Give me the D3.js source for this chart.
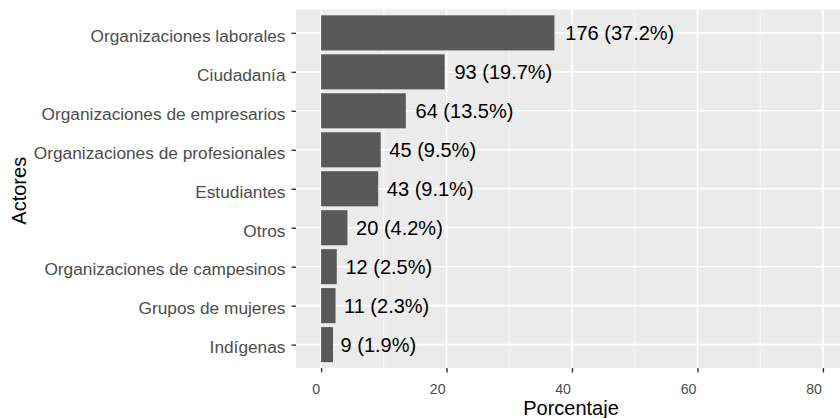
<!DOCTYPE html>
<html>
<head>
<meta charset="utf-8">
<script src="https://cdn.jsdelivr.net/npm/d3@7"></script>
<style>
  body { margin: 0; background: #fff; }
  svg { display: block; font-family: "Liberation Sans", Arial, sans-serif; }
</style>
</head>
<body>
<svg id="chart" width="840" height="418"></svg>
<script>
const categories = [
  "Organizaciones laborales",
  "Ciudadanía",
  "Organizaciones de empresarios",
  "Organizaciones de profesionales",
  "Estudiantes",
  "Otros",
  "Organizaciones de campesinos",
  "Grupos de mujeres",
  "Indígenas"
];
const counts = [176, 93, 64, 45, 43, 20, 12, 11, 9];
const percents = [37.2, 19.7, 13.5, 9.5, 9.1, 4.2, 2.5, 2.3, 1.9];
const xTicks = [0, 20, 40, 60, 80];
const xMinorTicks = [10, 30, 50, 70];
const xTitle = "Porcentaje";
const yTitle = "Actores";

const data = categories.map((c, i) => ({ cat: c, n: counts[i], pct: percents[i] }));

const svg = d3.select("#chart");
const panel = { left: 296, right: 848, top: 9.5, bottom: 368 };

const x = d3.scaleLinear().domain([-4, 84]).range([panel.left, panel.right]);
const y = d3.scalePoint().domain(categories).range([panel.top, panel.bottom]).padding(0.6);
const bandH = y.step() * 0.9;

// panel background
svg.append("rect")
  .attr("x", panel.left).attr("y", panel.top)
  .attr("width", panel.right - panel.left).attr("height", panel.bottom - panel.top)
  .attr("fill", "#ebebeb");

// minor gridlines
svg.append("g").selectAll("line").data(xMinorTicks).join("line")
  .attr("x1", d => x(d)).attr("x2", d => x(d))
  .attr("y1", panel.top).attr("y2", panel.bottom)
  .attr("stroke", "#fff").attr("stroke-width", 0.8);

// major gridlines
svg.append("g").selectAll("line").data(xTicks).join("line")
  .attr("x1", d => x(d)).attr("x2", d => x(d))
  .attr("y1", panel.top).attr("y2", panel.bottom)
  .attr("stroke", "#fff").attr("stroke-width", 1.6);
svg.append("g").selectAll("line").data(categories).join("line")
  .attr("x1", panel.left).attr("x2", panel.right)
  .attr("y1", d => y(d)).attr("y2", d => y(d))
  .attr("stroke", "#fff").attr("stroke-width", 1.6);

// bars
svg.append("g").selectAll("rect").data(data).join("rect")
  .attr("x", x(0))
  .attr("y", d => y(d.cat) - bandH / 2)
  .attr("width", d => x(d.pct) - x(0))
  .attr("height", bandH)
  .attr("fill", "#595959");

// bar labels (hjust = -0.1)
svg.append("g").selectAll("text").data(data).join("text")
  .attr("y", d => y(d.cat))
  .attr("dy", "0.36em")
  .attr("font-size", "20px")
  .attr("fill", "#000")
  .text(d => `${d.n} (${d.pct.toFixed(1)}%)`)
  .each(function(d) {
    const w = this.getComputedTextLength();
    d3.select(this).attr("x", x(d.pct) + 0.1 * w);
  });

// y axis
const yAxis = svg.append("g").attr("transform", `translate(${panel.left},0)`)
  .call(d3.axisLeft(y).tickSize(4.5).tickPadding(6));
yAxis.select(".domain").remove();
yAxis.selectAll(".tick line").attr("stroke", "#333").attr("stroke-width", 1.4);
yAxis.selectAll(".tick text")
  .attr("font-size", "17.3px").attr("fill", "#4d4d4d")
  .attr("font-family", "Liberation Sans, Arial, sans-serif")
  .attr("dy", "0.48em");

// x axis
const xAxis = svg.append("g").attr("transform", `translate(0,${panel.bottom})`)
  .call(d3.axisBottom(x).tickValues(xTicks).tickSize(4.5).tickPadding(6));
xAxis.select(".domain").remove();
xAxis.selectAll(".tick line").attr("stroke", "#333").attr("stroke-width", 1.4);
xAxis.selectAll(".tick text")
  .attr("font-size", "14.2px").attr("fill", "#4d4d4d")
  .attr("font-family", "Liberation Sans, Arial, sans-serif")
  .attr("text-anchor", "end")
  .attr("x", -1.5)
  .attr("y", 0).attr("dy", 0)
  .attr("transform", "translate(0,25.5)");

// titles
svg.append("text")
  .attr("x", 571).attr("y", 415)
  .attr("text-anchor", "middle")
  .attr("font-size", "20px").attr("fill", "#000")
  .text(xTitle);

svg.append("text")
  .attr("transform", `translate(25.5,${(panel.top + panel.bottom) / 2 + 2}) rotate(-90)`)
  .attr("text-anchor", "middle")
  .attr("font-size", "20px").attr("fill", "#000")
  .text(yTitle);
</script>
</body>
</html>
